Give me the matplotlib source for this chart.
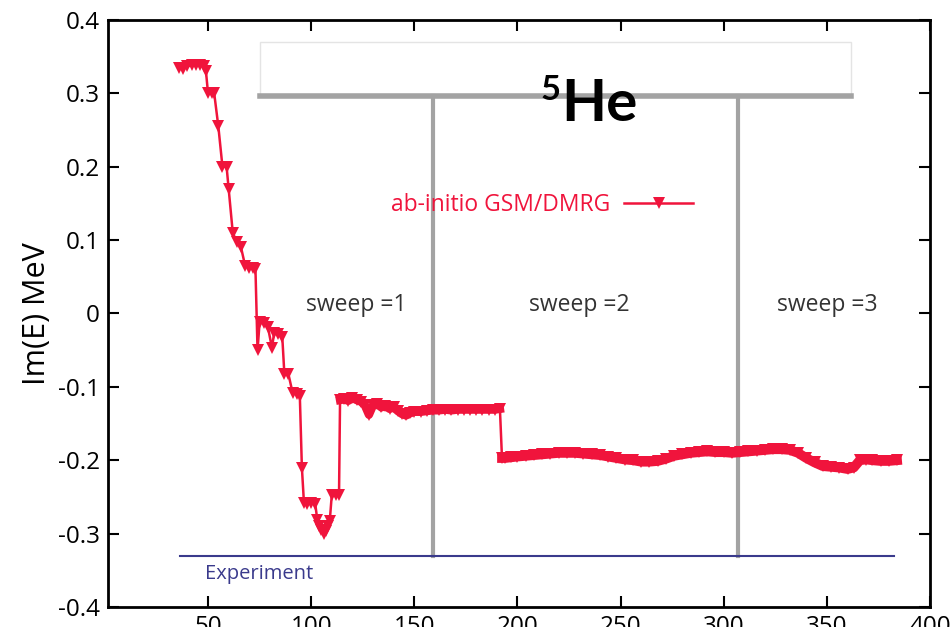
import matplotlib.pyplot as plt
from matplotlib.patches import Rectangle

plt.rcParams['font.family'] = ['Open Sans', 'DejaVu Sans']

# ab-initio GSM/DMRG, Im(E) vs. step
steps = [36, 38, 40, 42, 44, 46, 48, 49, 50, 52, 53, 55, 57, 59, 60, 62, 64, 66, 68, 70,
         72, 73, 74, 75, 77, 79, 81, 82, 84, 86, 87, 89, 91, 93, 94.5, 95.5, 96.5, 98, 100, 102,
         103, 104, 105, 106, 107, 108, 109, 110, 112, 113.5, 114,
         116, 118, 120, 122, 124, 126, 128, 130, 132, 134, 136, 138, 140, 142, 144, 146, 148,
         150, 153, 156, 159, 162, 165, 168, 171, 174, 177, 180, 183, 186, 189, 191.5, 192.5,
         194, 197, 200, 204, 208, 212, 216, 220, 224, 228, 232, 236, 240, 244, 248, 252, 256,
         260, 264, 268, 272, 276, 280, 284, 288, 292, 296, 300, 304, 308, 312, 316, 320, 324,
         328, 332, 336, 340, 344, 348, 352, 356, 360, 363, 366, 369, 372, 376, 380, 384]
im_e = [0.335, 0.333, 0.337, 0.338, 0.338, 0.338, 0.337, 0.33, 0.30, 0.30, 0.30, 0.255, 0.20, 0.20,
        0.17, 0.11, 0.097, 0.09, 0.065, 0.062, 0.062, 0.06, -0.05, -0.012, -0.013, -0.018, -0.047,
        -0.027, -0.028, -0.032, -0.082, -0.083, -0.108, -0.11, -0.112, -0.21, -0.258, -0.26, -0.258,
        -0.26, -0.282, -0.29, -0.295, -0.30, -0.296, -0.29, -0.283, -0.247, -0.247, -0.248, -0.118,
        -0.117, -0.119, -0.115, -0.118, -0.12, -0.125, -0.138, -0.125, -0.123, -0.128, -0.126, -0.13,
        -0.128, -0.133, -0.137, -0.139, -0.136, -0.134, -0.134, -0.133, -0.132, -0.132, -0.131,
        -0.132, -0.131, -0.131, -0.131, -0.131, -0.131, -0.131, -0.131, -0.13, -0.197,
        -0.197, -0.196, -0.195, -0.194, -0.193, -0.192, -0.191, -0.190, -0.190, -0.190, -0.191,
        -0.192, -0.193, -0.195, -0.197, -0.199, -0.200, -0.202, -0.202, -0.201, -0.198, -0.194,
        -0.192, -0.190, -0.189, -0.188, -0.189, -0.189, -0.190, -0.189, -0.188, -0.187, -0.186,
        -0.185, -0.185, -0.186, -0.190, -0.197, -0.203, -0.208, -0.209, -0.210, -0.212, -0.210,
        -0.200, -0.199, -0.200, -0.201, -0.201, -0.200]

experiment = -0.331
exp_range = [36.5, 382.5]
sweep_ends = [159, 307]
sweep_top = 0.297
sweep_labels = ['sweep =1', 'sweep =2', 'sweep =3']
sweep_label_x = [122, 230, 350]

yticks = [-0.4, -0.3, -0.2, -0.1, 0, 0.1, 0.2, 0.3, 0.4]
ytick_labels = ['-0.4', '-0.3', '-0.2', '-0.1', '0', '0.1', '0.2', '0.3', '0.4']
xticks = [50, 100, 150, 200, 250, 300, 350, 400]

red = '#f0143c'
navy = '#3a3a8c'
gray = '#a3a3a3'

fig = plt.figure(figsize=(9.53, 6.27), dpi=100)
ax = fig.add_axes([0.1133, 0.0319, 0.8626, 0.9362])

# white title box and the gray bar under it
ax.add_patch(Rectangle((75.2, sweep_top), 361.6 - 75.2, 0.37 - sweep_top,
                       facecolor='white', edgecolor='#e4e4e4', lw=1, zorder=1))
ax.plot([75.2, 361.6], [sweep_top, sweep_top], color=gray, lw=4, zorder=2)
for xs in sweep_ends:
    ax.plot([xs, xs], [experiment, sweep_top], color=gray, lw=3, zorder=2)

ax.plot(exp_range, [experiment, experiment], color=navy, lw=1.5, zorder=2)
ax.text(48.5, -0.355, 'Experiment', color=navy, fontsize=14.5, va='center', ha='left')

# the dense part of the run shows as a thick band of overlapping markers
i1 = steps.index(114)
i2 = steps.index(191.5)
i3 = steps.index(192.5)
ax.plot(steps[i1:i2 + 1], im_e[i1:i2 + 1], color=red, lw=6, zorder=3)
ax.plot(steps[i3:], im_e[i3:], color=red, lw=7, zorder=3)
ax.plot(steps, im_e, color=red, lw=1.8, marker='v', markersize=8.5,
        markeredgewidth=0, label='ab-initio GSM/DMRG', zorder=3)

for lx, lab in zip(sweep_label_x, sweep_labels):
    ax.text(lx, 0.012, lab, color='#333333', fontsize=16.5, ha='center', va='center')

ax.text(216, 0.304, '5', fontsize=25, fontweight='bold', family=['Lato', 'DejaVu Sans'],
        ha='center', va='center', zorder=4)
ax.text(221, 0.262, 'He', fontsize=42, fontweight='bold', family=['Lato', 'DejaVu Sans'],
        ha='left', va='baseline', zorder=4)

leg = ax.legend(loc='center', bbox_to_anchor=(0.528, 0.685), frameon=False,
                markerfirst=False, handlelength=3.0, numpoints=1, fontsize=16.5,
                handletextpad=0.6)
for t in leg.get_texts():
    t.set_color(red)

ax.set_xlim(1.5, 400)
ax.set_ylim(-0.4, 0.4)
ax.set_xticks(xticks)
ax.set_yticks(yticks)
ax.set_yticklabels(ytick_labels)
ax.tick_params(direction='in', length=8, width=1.5, labelsize=17.5,
               top=True, right=True, pad=6)
for s in ax.spines.values():
    s.set_linewidth(2)
ax.set_ylabel('Im(E) MeV', fontsize=22, labelpad=4)

fig.savefig('out.png', dpi=100)
